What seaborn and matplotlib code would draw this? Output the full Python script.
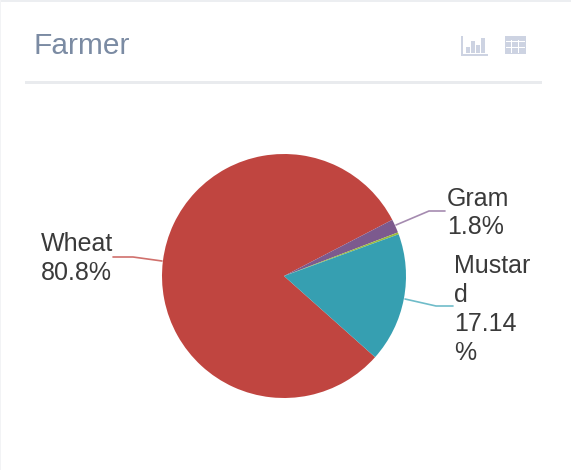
import numpy as np
import seaborn as sns
import matplotlib
import matplotlib.pyplot as plt
from matplotlib.patches import Rectangle

matplotlib.use('Agg')

# Values
crops = ['Wheat', 'Gram', 'Other', 'Mustard']
shares = [80.8, 1.8, 0.26, 17.14]
slice_colors = ['#c04540', '#7c5a8e', '#9cbc3c', '#369fb1']
title = 'Farmer'

W, H = 571, 470


def px_x(x):
    return x / W


def px_y(y):
    return 1 - y / H


sns.set_theme(style='white')
plt.rcParams['font.family'] = ['Liberation Sans', 'DejaVu Sans']

fig = plt.figure(figsize=(W / 100, H / 100), dpi=100, facecolor='white')

# Pie sits in square axes, 1 data unit = 122 px
cx, cy, r = 284, 276, 122
span = 1.0
ax = fig.add_axes([px_x(cx - r * span), px_y(cy + r * span), 2 * r * span / W, 2 * r * span / H])
palette = sns.color_palette(slice_colors)
ax.pie(shares, colors=palette, startangle=-41.7, counterclock=False, radius=1,
       wedgeprops={'linewidth': 0})
ax.set_xlim(-span, span)
ax.set_ylim(-span, span)
ax.set_aspect('equal')
ax.axis('off')


def page_line(xs, ys, color, lw=1.2):
    fig.add_artist(plt.Line2D([px_x(x) for x in xs], [px_y(y) for y in ys],
                              color=color, lw=lw, transform=fig.transFigure))


def page_box(x, y, w, h, color):
    fig.add_artist(Rectangle((px_x(x), px_y(y + h)), w / W, h / H, facecolor=color,
                             edgecolor='none', transform=fig.transFigure))


# Leader lines
page_line([162, 133, 113], [261, 257, 257], '#d0706c')
page_line([396, 429, 445], [225, 211, 211], '#a58bb0')
page_line([405, 436, 453], [299, 306, 306], '#6fbcc9')

# Labels
label_color = '#3a3a3a'
for text, x, y in zip(['Wheat', '80.8%', 'Gram', '1.8%', 'Mustar', 'd', '17.14', '%'],
                      [41, 41, 447, 447, 454, 454, 454, 454],
                      [244, 273, 199, 227, 266, 295, 324, 353]):
    fig.text(px_x(x), px_y(y), text, fontsize=18, color=label_color, va='center', ha='left')

# Card header
fig.text(px_x(34), px_y(46), title, fontsize=21.5, color='#7b8ba3', va='center', ha='left')
page_box(25, 81, 517, 3, '#e9ebee')
page_box(0, 0, W, 2, '#eceef1')
page_box(0, 0, 1, H, '#f2f3f5')

# Chart icon
icon = '#cdd3e2'
page_box(461, 36, 1.5, 19, icon)
page_box(461, 54, 27, 1.5, icon)
for x, top in zip([466, 471, 476, 481], [47, 41, 45, 38]):
    page_box(x, top, 4, 53 - top, icon)

# Table icon
page_box(505, 36, 21, 18, icon)
for x in [511, 518]:
    page_box(x, 40, 1, 13, 'white')
for y in [41, 47]:
    page_box(506, y, 19, 1, 'white')

plt.savefig('out.png', dpi=100)
plt.close()
